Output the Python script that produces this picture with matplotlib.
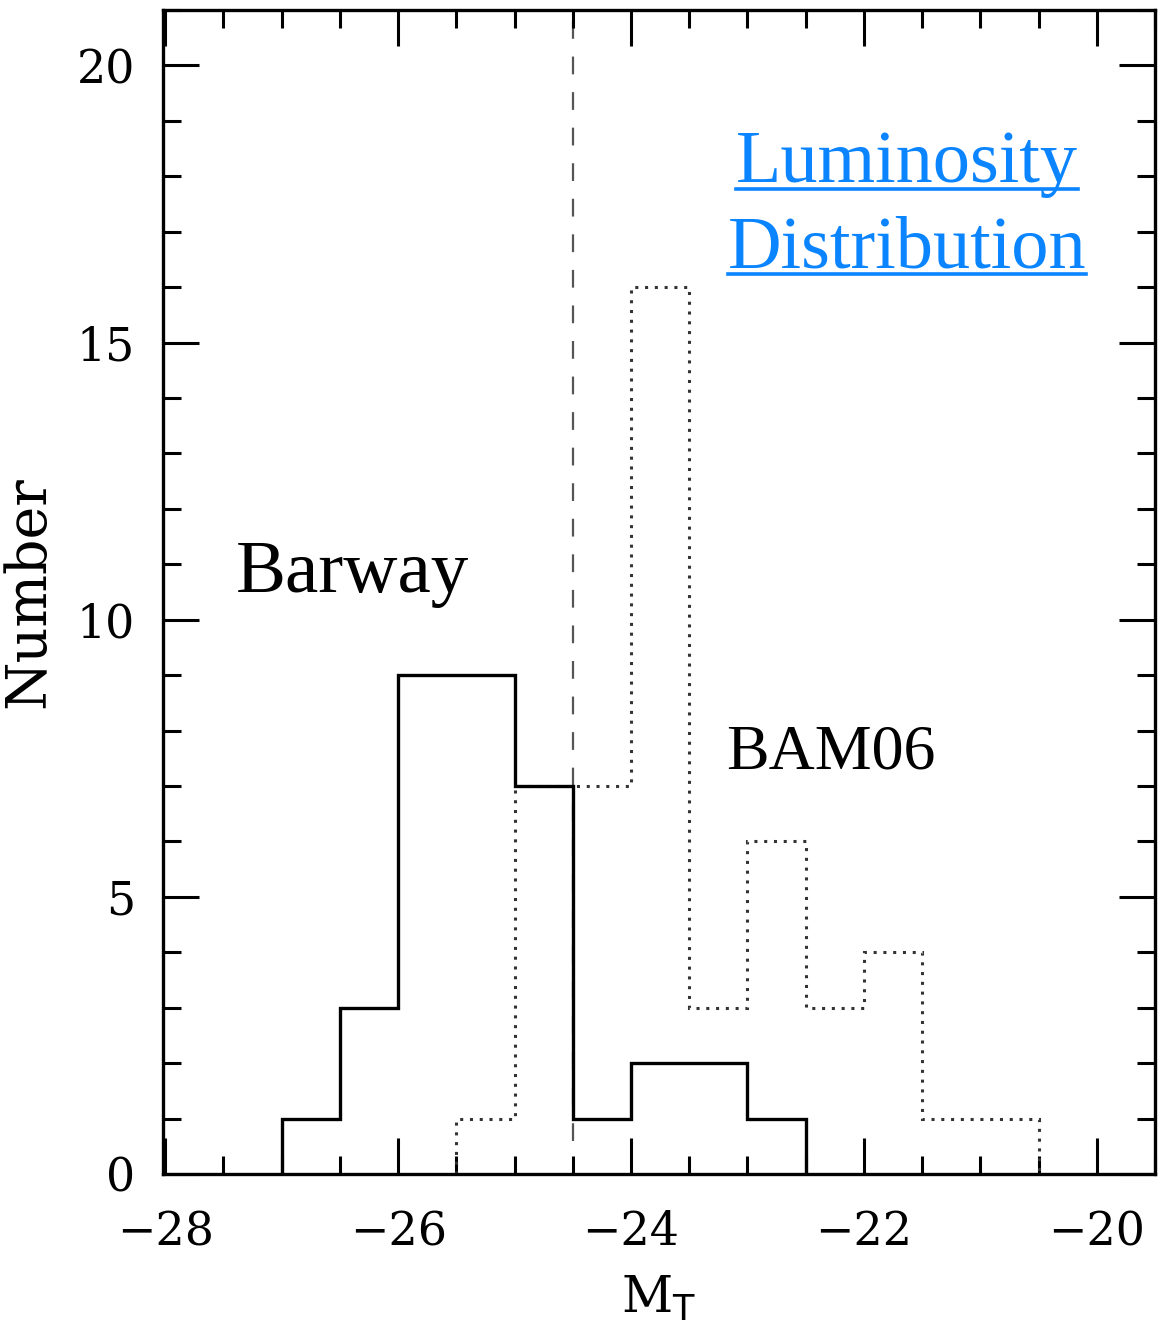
import numpy as np
import matplotlib
matplotlib.use('Agg')
import matplotlib.pyplot as plt
from matplotlib.lines import Line2D

# histogram bins (M_T) and counts
barway_edges = [-27.0, -26.5, -26.0, -25.5, -25.0, -24.5, -24.0, -23.5, -23.0, -22.5]
barway_counts = [1, 3, 9, 9, 7, 1, 2, 2, 1]
bam06_edges = [-25.5, -25.0, -24.5, -24.0, -23.5, -23.0, -22.5, -22.0, -21.5, -21.0, -20.5]
bam06_counts = [1, 7, 7, 16, 3, 6, 3, 4, 1, 1]
cut_mag = -24.5  # dashed dividing line

xticks = [-28, -26, -24, -22, -20]
yticks = [0, 5, 10, 15, 20]

plt.rcParams['font.family'] = 'DejaVu Serif'
fig = plt.figure(figsize=(11.59, 13.32), dpi=100)
ax = fig.add_axes([0.1406, 0.1186, 0.8559, 0.8739])

ax.plot([cut_mag, cut_mag], [0.6, 21], color='#555555', lw=1.6,
        dashes=(8, 8), zorder=1)
ax.stairs(bam06_counts, bam06_edges, color='#333333', lw=2.2,
          linestyle=(0, (1, 2.2)), zorder=2)
ax.stairs(barway_counts, barway_edges, color='black', lw=2.4, zorder=3)

ax.set_xlim(-28.02, -19.5)
ax.set_ylim(0, 21)
ax.set_xticks(xticks)
ax.set_yticks(yticks)
ax.set_xticks(np.arange(-28, -19.4, 0.5), minor=True)
ax.set_yticks(np.arange(0, 21.1, 1), minor=True)
ax.tick_params(which='both', direction='in', top=True, right=True, width=2.2)
ax.tick_params(which='major', length=26, labelsize=33)
ax.tick_params(axis='x', which='major', pad=26)
ax.tick_params(axis='y', which='major', pad=20)
ax.tick_params(which='minor', length=13)
for s in ax.spines.values():
    s.set_linewidth(2.4)

ax.set_ylabel('Number', fontsize=40)
ax.yaxis.set_label_coords(-0.108, 0.5)
ax.set_xlabel(r'M$_\mathrm{T}$', fontsize=36, labelpad=14)

ax.text(-27.39, 10.5, 'Barway', fontsize=54, family='Liberation Serif')
ax.text(-23.18, 7.32, 'BAM06', fontsize=46, family='Liberation Serif')

# underlined blue title
blue = '#0a84ff'
t1 = ax.text(-21.63, 17.9, 'Luminosity', fontsize=53.5, color=blue,
             family='Liberation Serif', ha='center')
t2 = ax.text(-21.63, 16.36, 'Distribution', fontsize=53.5, color=blue,
             family='Liberation Serif', ha='center')
fig.canvas.draw()
r = fig.canvas.get_renderer()
inv = fig.transFigure.inverted()
for t in (t1, t2):
    bb = t.get_window_extent(r)
    x0 = inv.transform((bb.x0, 0))[0]
    x1 = inv.transform((bb.x1, 0))[0]
    yb = inv.transform(ax.transData.transform((0, t.get_position()[1])))[1]
    yl = yb - 7 / 1332
    fig.add_artist(Line2D([x0, x1], [yl, yl], color=blue, lw=2.6))

fig.savefig('out.png', dpi=100)
